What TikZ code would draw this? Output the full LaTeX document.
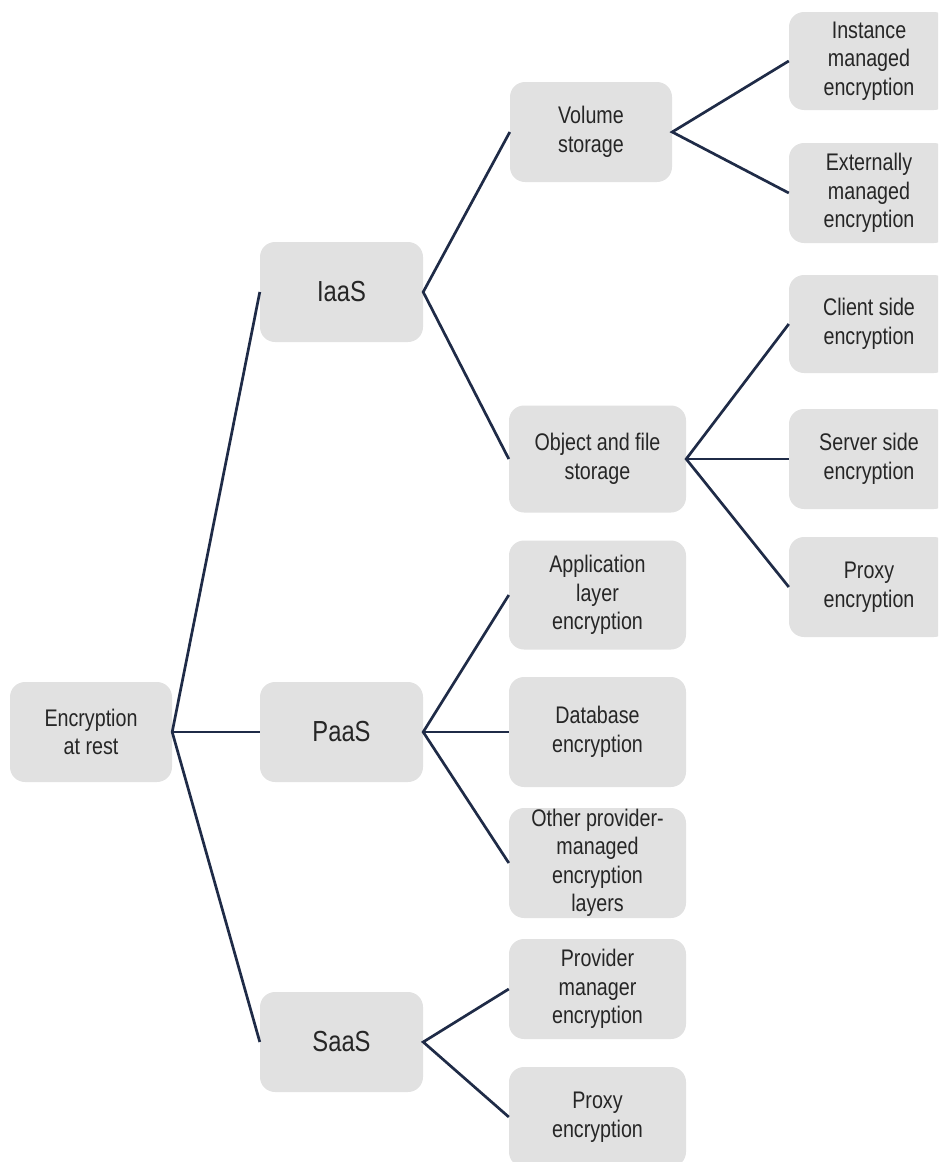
\documentclass[tikz,border=0pt]{standalone}
\usepackage{fontspec}
\setmainfont[FakeStretch=0.82]{Liberation Sans}
\definecolor{boxgray}{HTML}{E1E1E1}
\definecolor{navy}{HTML}{1F2B47}
\definecolor{textgray}{HTML}{262626}
\tikzset{
  box/.style={fill=boxgray, rounded corners=15pt, text=textgray, align=center,
    inner sep=0pt, font=\fontsize{24}{28.5}\selectfont},
  mainbox/.style={box, font=\fontsize{29}{34}\selectfont},
  link/.style={draw=navy, line width=2.7pt, line join=miter}
}
\begin{document}
\begin{tikzpicture}[x=1pt, y=-1pt]
\useasboundingbox (0,0) rectangle (938,1162);
\clip (0,0) rectangle (938,1162);
% level 0
\node[box, minimum width=162pt, minimum height=100pt] (root) at (91,732) {Encryption\\at rest};
% level 1
\node[mainbox, minimum width=163pt, minimum height=100pt] (iaas) at (341.5,292) {IaaS};
\node[mainbox, minimum width=163pt, minimum height=100pt] (paas) at (341.5,732) {PaaS};
\node[mainbox, minimum width=163pt, minimum height=100pt] (saas) at (341.5,1042) {SaaS};
% level 2
\node[box, minimum width=162pt, minimum height=100pt] (vol) at (591,132) {Volume\\storage};
\node[box, minimum width=177pt, minimum height=107pt] (obj) at (597.5,459) {Object and file\\storage};
\node[box, minimum width=177pt, minimum height=109pt] (app) at (597.5,595) {Application\\layer\\encryption};
\node[box, minimum width=177pt, minimum height=110pt] (db) at (597.5,732) {Database\\encryption};
\node[box, minimum width=177pt, minimum height=110pt] (other) at (597.5,863) {Other provider-\\managed\\encryption\\layers};
\node[box, minimum width=177pt, minimum height=100pt] (prov) at (597.5,989) {Provider\\manager\\encryption};
\node[box, minimum width=177pt, minimum height=100pt] (proxys) at (597.5,1117) {Proxy\\encryption};
% level 3
\node[box, minimum width=160pt, minimum height=98pt] (inst) at (869,61) {Instance\\managed\\encryption};
\node[box, minimum width=160pt, minimum height=100pt] (ext) at (869,193) {Externally\\managed\\encryption};
\node[box, minimum width=160pt, minimum height=98pt] (client) at (869,324) {Client side\\encryption};
\node[box, minimum width=160pt, minimum height=100pt] (server) at (869,459) {Server side\\encryption};
\node[box, minimum width=160pt, minimum height=100pt] (proxyr) at (869,587) {Proxy\\encryption};
% connectors
\draw[link] (iaas.west) -- (root.east) -- (saas.west);
\draw[link] (root.east) -- (paas.west);
\draw[link] (vol.west) -- (iaas.east) -- (obj.west);
\draw[link] (inst.west) -- (vol.east) -- (ext.west);
\draw[link] (client.west) -- (obj.east) -- (proxyr.west);
\draw[link] (obj.east) -- (server.west);
\draw[link] (app.west) -- (paas.east) -- (other.west);
\draw[link] (paas.east) -- (db.west);
\draw[link] (prov.west) -- (saas.east) -- (proxys.west);
\end{tikzpicture}
\end{document}
